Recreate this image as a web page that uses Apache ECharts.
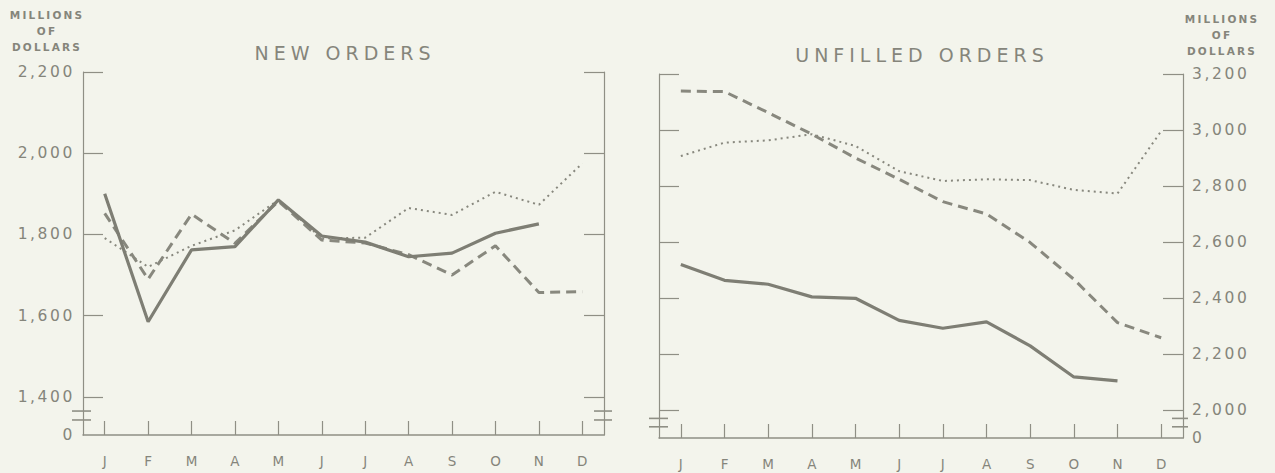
<!DOCTYPE html>
<html><head><meta charset="utf-8">
<script src="https://cdn.jsdelivr.net/npm/echarts@6/dist/echarts.min.js"></script>
<style>
html,body{margin:0;padding:0;background:#f3f4ec;}
#c{width:1275px;height:473px;}
#c text[style*="19px"]{letter-spacing:5px;}
#c text[style*="15.5px"]{letter-spacing:2.6px;}
#c text[style*="10.5px"]{letter-spacing:2.2px;}
</style></head><body><div id="c"></div>
<script>
// ---- data ----
const months = ['J','F','M','A','M','J','J','A','S','O','N','D'];
const newTicks = [1400, 1600, 1800, 2000, 2200];
const unfTicks = [2000, 2200, 2400, 2600, 2800, 3000, 3200];
const newSolid  = [1900, 1585, 1762, 1770, 1885, 1796, 1781, 1745, 1754, 1803, 1826, null];
const newDashed = [1852, 1690, 1850, 1778, 1882, 1786, 1779, 1750, 1700, 1772, 1657, 1659];
const newDotted = [1791, 1720, 1772, 1810, 1885, 1790, 1792, 1865, 1848, 1905, 1873, 1975];
const unfSolid  = [2520, 2463, 2449, 2404, 2399, 2320, 2292, 2315, 2229, 2118, 2104, null];
const unfDashed = [3139, 3137, 3062, 2985, 2900, 2824, 2744, 2700, 2598, 2467, 2312, 2258];
const unfDotted = [2907, 2955, 2963, 2985, 2943, 2853, 2818, 2824, 2821, 2786, 2773, 2996];

// ---- layout / style ----
const L = {left: 83, top: 72, width: 521, height: 363, min: 1306, max: 2200};
const R = {left: 659, top: 74, width: 524, height: 364, min: 1900, max: 3200};
const FONT = '"DejaVu Sans", sans-serif';
const TXT = '#85857b';
const AX = '#8f8f85';
const LINE = '#7e7e74';

const fmt = (base) => (v) => (Math.abs(v - base) < 1 ? '0' : Number(v).toLocaleString('en-US'));

function xAxis(grid) {
  return {
    type: 'category', gridIndex: grid, data: months, boundaryGap: true,
    axisLine: {show: true, lineStyle: {color: AX, width: 1.5}},
    axisTick: {show: true, inside: true, alignWithLabel: true, interval: 0, length: 14, lineStyle: {color: AX, width: 1.2}},
    axisLabel: {interval: 0, margin: 19, fontSize: 13.5, color: TXT, fontFamily: FONT},
    splitLine: {show: false}
  };
}
function yAxis(grid, pos, S, ticks, labels, margin) {
  return {
    type: 'value', gridIndex: grid, position: pos, min: S.min, max: S.max,
    axisLine: {show: true, lineStyle: {color: AX, width: 1.2}},
    axisTick: {show: true, inside: true, length: 20, customValues: ticks, lineStyle: {color: AX, width: 1.2}},
    axisLabel: labels ? {show: true, customValues: [S.min].concat(ticks), formatter: fmt(S.min),
      fontSize: 15.5, color: TXT, fontFamily: FONT, margin: margin} : {show: false},
    splitLine: {show: false}
  };
}
function line(data, xi, yi, kind) {
  const ls = {solid: {width: 3.2, type: 'solid', color: LINE},
              dashed: {width: 3, type: [10, 6], color: '#88887e'},
              dotted: {width: 2, type: [2, 4], color: '#88887e'}}[kind];
  return {type: 'line', data: data, xAxisIndex: xi, yAxisIndex: yi, symbol: 'none',
          lineStyle: ls, connectNulls: false, silent: true};
}

const chart = echarts.init(document.getElementById('c'), null, {renderer: 'svg'});
chart.setOption({
  animation: false,
  backgroundColor: '#f3f4ec',
  grid: [
    {left: L.left, top: L.top, width: L.width, height: L.height},
    {left: R.left, top: R.top, width: R.width, height: R.height}
  ],
  xAxis: [xAxis(0), xAxis(1)],
  yAxis: [
    yAxis(0, 'left', L, newTicks, true, 8),
    yAxis(0, 'right', L, newTicks, false),
    yAxis(1, 'left', R, unfTicks, false),
    yAxis(1, 'right', R, unfTicks, true, 9)
  ],
  series: [
    line(newDotted, 0, 0, 'dotted'),
    line(newDashed, 0, 0, 'dashed'),
    line(newSolid, 0, 0, 'solid'),
    line(unfDotted, 1, 3, 'dotted'),
    line(unfDashed, 1, 3, 'dashed'),
    line(unfSolid, 1, 3, 'solid')
  ]
});

// decorations: titles, units, axis break marks
const yL = (v) => chart.convertToPixel({yAxisIndex: 0}, v);
const yR = (v) => chart.convertToPixel({yAxisIndex: 3}, v);
const gfx = [];
function brk(x1, x2, ya, yb) {
  gfx.push({type: 'line', shape: {x1: x1, y1: ya, x2: x2, y2: ya}, style: {stroke: AX, lineWidth: 1.6}});
  gfx.push({type: 'line', shape: {x1: x1, y1: yb, x2: x2, y2: yb}, style: {stroke: AX, lineWidth: 1.6}});
}
function gap(x, ya, yb) {
  gfx.push({type: 'rect', shape: {x: x - 2.5, y: ya + 1, width: 5, height: yb - ya - 2}, style: {fill: '#f3f4ec'}});
}
const Lr = L.left + L.width, Rr = R.left + R.width;
const la = yL(1365), lb = yL(1343), ra = yR(1970), rb = yR(1940);
gap(L.left, la, lb); gap(Lr, la, lb); gap(R.left, ra, rb); gap(Rr, ra, rb);
brk(L.left - 11, L.left + 8, la, lb);
brk(Lr - 10, Lr + 8, la, lb);
brk(R.left - 10, R.left + 9, ra, rb);
brk(Rr - 11, Rr + 5, ra, rb);
gfx.push({type: 'text', x: 345, y: 53, style: {text: 'NEW ORDERS', font: '19px ' + FONT, fill: TXT, align: 'center', verticalAlign: 'middle'}});
gfx.push({type: 'text', x: 922, y: 55, style: {text: 'UNFILLED ORDERS', font: '19px ' + FONT, fill: TXT, align: 'center', verticalAlign: 'middle'}});
gfx.push({type: 'text', x: 47, y: 7, style: {text: 'MILLIONS\nOF\nDOLLARS', font: 'bold 10.5px ' + FONT, lineHeight: 16, fill: TXT, align: 'center', verticalAlign: 'top'}});
gfx.push({type: 'text', x: 1222, y: 11, style: {text: 'MILLIONS\nOF\nDOLLARS', font: 'bold 10.5px ' + FONT, lineHeight: 16, fill: TXT, align: 'center', verticalAlign: 'top'}});
chart.setOption({graphic: gfx});
</script>
</body></html>
